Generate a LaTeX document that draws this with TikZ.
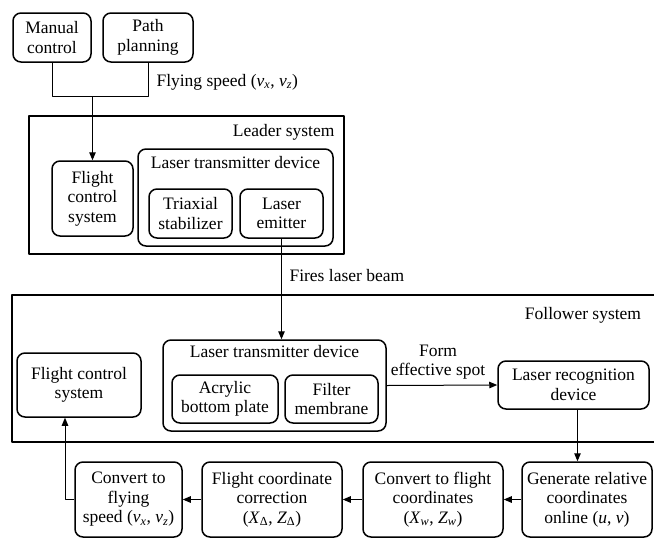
\documentclass[tikz,border=0pt]{standalone}
\usepackage{fontspec}
\setmainfont{Liberation Serif}
\usetikzlibrary{arrows.meta, positioning, calc}
\tikzset{
  blk/.style={draw, line width=1.5pt, rounded corners=8pt, align=center, inner sep=1pt},
  frame/.style={line width=1.5pt},
  link/.style={line width=1pt, -{Triangle[length=8pt,width=6.5pt]}},
  plain/.style={line width=1pt}
}
\newcommand{\vv}[1]{\textit{v}\textsubscript{\textit{#1}}}
\begin{document}
\begin{tikzpicture}[x=1pt, y=-1pt, line join=round, font=\rmfamily\fontsize{17.5}{19.5}\selectfont]
      \useasboundingbox (0,0) rectangle (654,539);
      % top inputs
      \node[blk, minimum width=78pt, minimum height=49pt] (manual) at (52,37.5) {Manual\\control};
      \node[blk, minimum width=90pt, minimum height=49pt] (path) at (148,37.5) {Path\\planning};
      \coordinate (join) at (92.5,96);
      \node[anchor=west] (speedlbl) at (153,82) {Flying speed (\vv{x}, \vv{z})};
      % leader system
      \draw[frame] (29,116) rectangle (344,254);
      \node[anchor=east] (leaderlbl) at (338,132) {Leader system};
      \node[blk, minimum width=81pt, minimum height=75pt] (leadfcs) at (92.5,198.5) {Flight\\control\\system};
      \node[blk, minimum width=195pt, minimum height=97pt] (leadltd) at (235.5,197.5) {};
      \node[below=5pt of leadltd.north] (leadltdlbl) {Laser transmitter device};
      \node[blk, minimum width=83pt, minimum height=49pt] (triax) at (190.5,213.5) {Triaxial\\stabilizer};
      \node[blk, minimum width=83pt, minimum height=49pt] (emitter) at (281.5,213.5) {Laser\\emitter};
      \node[anchor=west] (fireslbl) at (286,276) {Fires laser beam};
      % follower system
      \draw[frame] (660,295) -- (12,295) -- (12,442) -- (660,442);
      \node (followlbl) at (583,315) {Follower system};
      \node[blk, minimum width=124pt, minimum height=64pt] (follfcs) at (79,385) {Flight control\\system};
      \node[blk, minimum width=223pt, minimum height=91pt] (follltd) at (274.5,385.5) {};
      \node[below=3pt of follltd.north] (follltdlbl) {Laser transmitter device};
      \node[blk, minimum width=106pt, minimum height=48pt] (acrylic) at (225,399) {Acrylic\\bottom plate};
      \node[blk, minimum width=93pt, minimum height=48pt] (filter) at (331.5,399) {Filter\\membrane};
      \node[blk, minimum width=151pt, minimum height=48pt] (recog) at (573.5,385) {Laser recognition\\device};
      \node[align=center] (spotlbl) at (438,362) {Form\\effective spot};
      % processing chain
      \node[blk, minimum width=130pt, minimum height=75pt] (relcoord) at (587,499.5) {Generate relative\\coordinates\\online (\textit{u}, \textit{v})};
      \node[blk, minimum width=140pt, minimum height=75pt] (flightcoord) at (433,499.5) {Convert to flight\\coordinates\\(\textit{X}\textsubscript{\textit{w}}, \textit{Z}\textsubscript{\textit{w}})};
      \node[blk, minimum width=140pt, minimum height=75pt] (correct) at (272,499.5) {Flight coordinate\\correction\\(\textit{X}\textsubscript{Δ}, \textit{Z}\textsubscript{Δ})};
      \node[blk, minimum width=107pt, minimum height=75pt] (tospeed) at (128.5,499.5) {Convert to\\flying\\speed (\vv{x}, \vv{z})};
      \coordinate (turn) at (65,499.5);
      % connectors
      \draw[plain] (manual.south) |- (path.south |- join) -- (path.south);
      \draw[link] (join) -- (leadfcs.north);
      \draw[link] (emitter.south) -- (emitter.south |- follltd.north);
      \draw[link] (follltd.east) -- (recog.west);
      \draw[link] ([xshift=4pt]recog.south) -- ([xshift=4pt]recog.south |- relcoord.north);
      \draw[link] (relcoord) -- (flightcoord);
      \draw[link] (flightcoord) -- (correct);
      \draw[link] (correct) -- (tospeed);
      \draw[link] (tospeed.west) -- (turn) -- (turn |- follfcs.south);
    \end{tikzpicture}
\end{document}
